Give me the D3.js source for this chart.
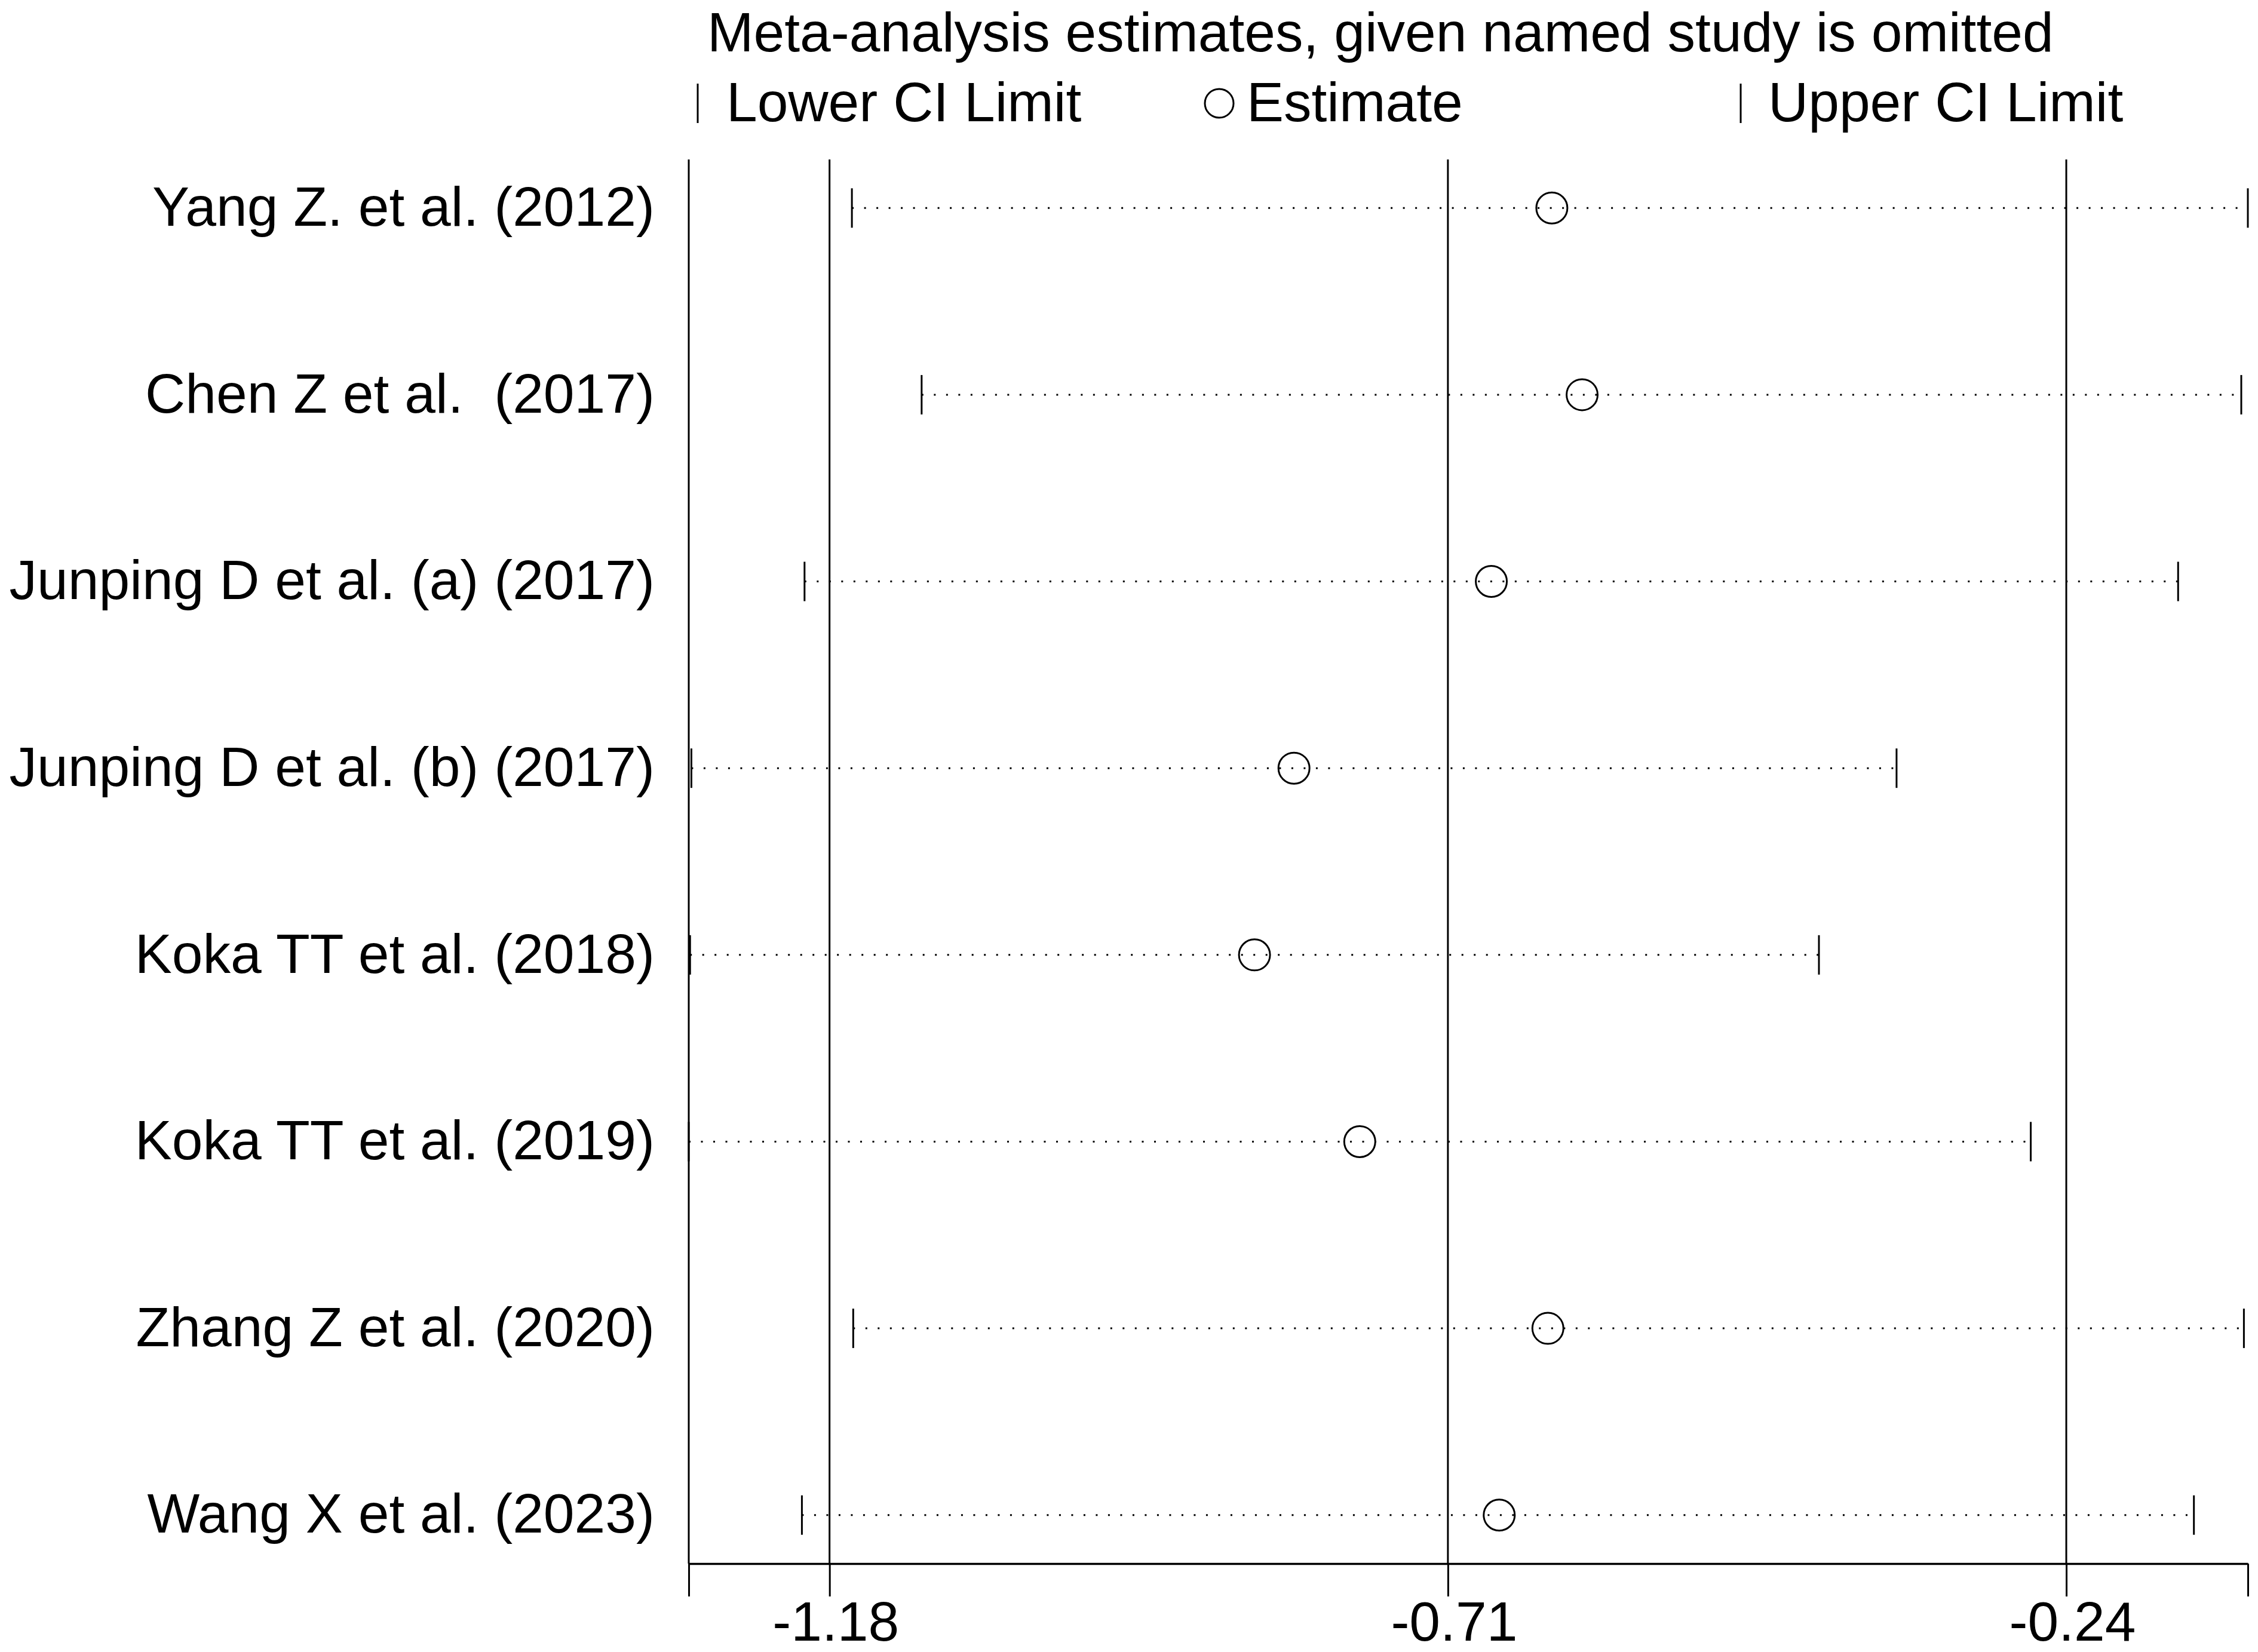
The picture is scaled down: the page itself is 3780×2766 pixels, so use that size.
<!DOCTYPE html>
<html>
<head>
<meta charset="utf-8">
<script src="https://cdn.jsdelivr.net/npm/d3@7"></script>
<style>
  body { margin: 0; background: #fff; }
  svg text { font-family: "Liberation Sans", Arial, sans-serif; fill: #000; white-space: pre; }
</style>
</head>
<body>
<div id="chart"></div>
<script>
// Study omitted in each row
const studies = [
    "Yang Z. et al. (2012)",
    "Chen Z et al.  (2017)",
    "Junping D et al. (a) (2017)",
    "Junping D et al. (b) (2017)",
    "Koka TT et al. (2018)",
    "Koka TT et al. (2019)",
    "Zhang Z et al. (2020)",
    "Wang X et al. (2023)"
];
// pooled estimate and CI with that study left out
const lowerCI  = [-1.163, -1.110, -1.199, -1.285, -1.286, -1.287, -1.162, -1.201];
const estimate = [-0.631, -0.608, -0.677, -0.827, -0.857, -0.777, -0.634, -0.671];
const upperCI  = [-0.102, -0.107, -0.155, -0.369, -0.428, -0.267, -0.105, -0.143];
// overall lower CI, estimate, upper CI (reference lines and labelled ticks)
const refTicks = [-1.18, -0.71, -0.24];

const width = 3780, height = 2766;
const plot = { left: 1153, right: 3763, top: 267, bottom: 2618 };
const fontSize = 93;

const data = studies.map((s, i) => ({
    name: s, row: i + 1, lo: lowerCI[i], est: estimate[i], hi: upperCI[i]
}));

const svg = d3.select("#chart")
    .append("svg")
    .attr("width", width)
    .attr("height", height);

svg.append("rect").attr("width", width).attr("height", height).attr("fill", "#fff");

const x = d3.scaleLinear()
    .domain([d3.min(lowerCI), d3.max(upperCI)])
    .range([plot.left, plot.right]);

const y = d3.scaleLinear()
    .domain([0.74, studies.length + 0.26])
    .range([plot.top, plot.bottom]);

// Title
svg.append("text")
    .attr("x", 1184)
    .attr("y", 86)
    .style("font-size", fontSize + "px")
    .text("Meta-analysis estimates, given named study is omitted");

// Legend
const legY = 173;
const legend = svg.append("g");
legend.append("line")
    .attr("x1", 1168).attr("x2", 1168)
    .attr("y1", legY - 33).attr("y2", legY + 33)
    .attr("stroke", "#000").attr("stroke-width", 3);
legend.append("text").attr("x", 1216).attr("y", 203)
    .style("font-size", fontSize + "px").text("Lower CI Limit");
legend.append("circle")
    .attr("cx", 2041).attr("cy", legY).attr("r", 24)
    .attr("fill", "none").attr("stroke", "#000").attr("stroke-width", 3);
legend.append("text").attr("x", 2087).attr("y", 203)
    .style("font-size", fontSize + "px").text("Estimate");
legend.append("line")
    .attr("x1", 2914).attr("x2", 2914)
    .attr("y1", legY - 33).attr("y2", legY + 33)
    .attr("stroke", "#000").attr("stroke-width", 3);
legend.append("text").attr("x", 2960).attr("y", 203)
    .style("font-size", fontSize + "px").text("Upper CI Limit");

// Reference lines at overall CI and estimate
svg.selectAll("line.ref")
    .data(refTicks)
    .enter()
    .append("line")
    .attr("class", "ref")
    .attr("x1", d => x(d)).attr("x2", d => x(d))
    .attr("y1", plot.top).attr("y2", plot.bottom)
    .attr("stroke", "#000").attr("stroke-width", 3);

// Left axis line
svg.append("line")
    .attr("x1", plot.left).attr("x2", plot.left)
    .attr("y1", plot.top).attr("y2", plot.bottom)
    .attr("stroke", "#000").attr("stroke-width", 3);

// Bottom axis
const tickVals = [x.domain()[0]].concat(refTicks, [x.domain()[1]]);
const xAxis = svg.append("g")
    .attr("transform", `translate(0,${plot.bottom})`)
    .call(d3.axisBottom(x)
        .tickValues(tickVals)
        .tickSize(55)
        .tickSizeOuter(0)
        .tickPadding(8)
        .tickFormat(d => refTicks.includes(d) ? d.toFixed(2) : ""));
xAxis.select(".domain").attr("stroke", "#000").attr("stroke-width", 3.5);
xAxis.selectAll(".tick line").attr("stroke", "#000").attr("stroke-width", 3);
xAxis.selectAll(".tick text")
    .attr("dx", 10)
    .style("font-size", fontSize + "px")
    .style("font-family", "'Liberation Sans', Arial, sans-serif")
    .attr("fill", "#000");

// Study labels
svg.selectAll("text.study")
    .data(data)
    .enter()
    .append("text")
    .attr("class", "study")
    .attr("x", 1096)
    .attr("y", d => y(d.row))
    .attr("dy", "0.32em")
    .attr("text-anchor", "end")
    .style("font-size", fontSize + "px")
    .text(d => d.name);

const rows = svg.selectAll("g.row")
    .data(data)
    .enter()
    .append("g")
    .attr("class", "row");

// Dotted CI line
rows.append("line")
    .attr("x1", d => x(d.lo)).attr("x2", d => x(d.hi))
    .attr("y1", d => y(d.row)).attr("y2", d => y(d.row))
    .attr("stroke", "#000")
    .attr("stroke-width", 3)
    .attr("stroke-dasharray", "3 17.5");

// CI limit ticks
rows.append("line")
    .attr("x1", d => x(d.lo)).attr("x2", d => x(d.lo))
    .attr("y1", d => y(d.row) - 33).attr("y2", d => y(d.row) + 33)
    .attr("stroke", "#000").attr("stroke-width", 3);
rows.append("line")
    .attr("x1", d => x(d.hi)).attr("x2", d => x(d.hi))
    .attr("y1", d => y(d.row) - 33).attr("y2", d => y(d.row) + 33)
    .attr("stroke", "#000").attr("stroke-width", 3);

// Estimate
rows.append("circle")
    .attr("cx", d => x(d.est))
    .attr("cy", d => y(d.row))
    .attr("r", 26)
    .attr("fill", "none")
    .attr("stroke", "#000")
    .attr("stroke-width", 3);
</script>
</body>
</html>
